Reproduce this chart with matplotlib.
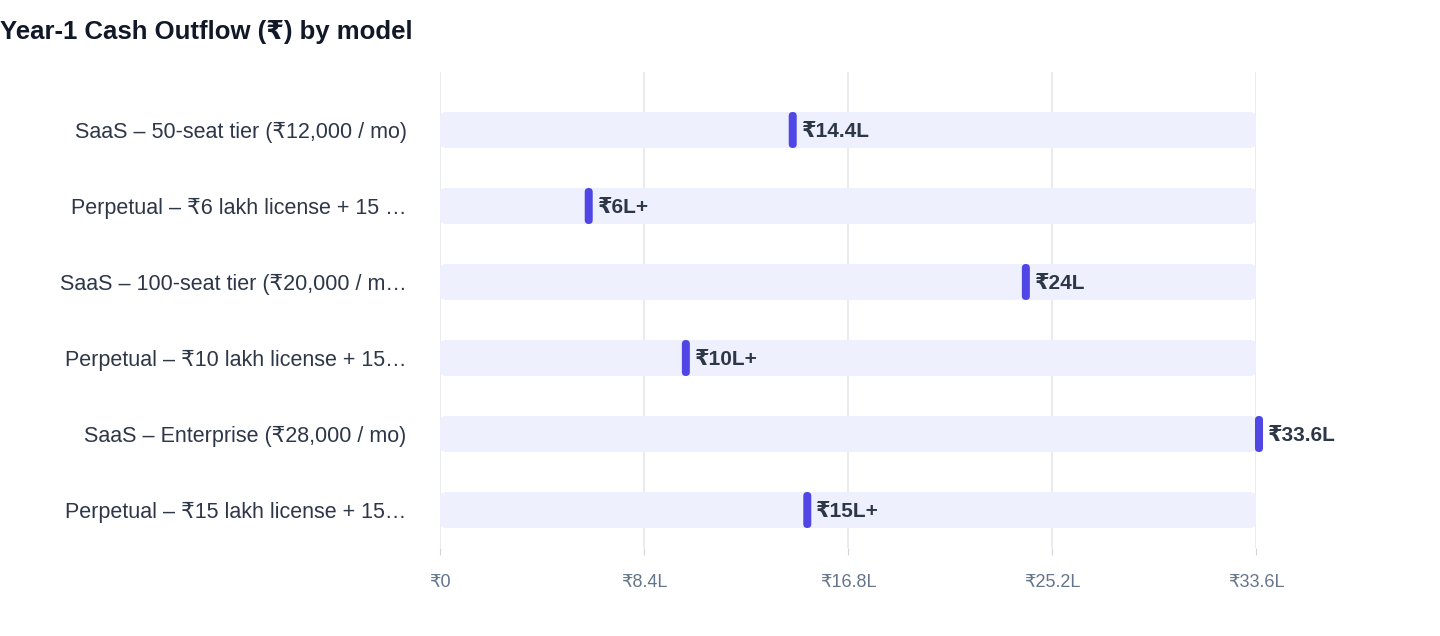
import matplotlib
matplotlib.use("Agg")
import matplotlib.pyplot as plt
from matplotlib.patches import FancyBboxPatch

plt.rcParams['font.family'] = ['Liberation Sans', 'DejaVu Sans']

categories = ["SaaS – 50-seat tier (₹12,000 / mo)",
              "Perpetual – ₹6 lakh license + 15 …",
              "SaaS – 100-seat tier (₹20,000 / m…",
              "Perpetual – ₹10 lakh license + 15…",
              "SaaS – Enterprise (₹28,000 / mo)",
              "Perpetual – ₹15 lakh license + 15…"]
values = [14.4, 6, 24, 10, 33.6, 15]
value_labels = ["₹14.4L", "₹6L+", "₹24L", "₹10L+", "₹33.6L", "₹15L+"]
ticks = [0, 8.4, 16.8, 25.2, 33.6]
tick_labels = ["₹0", "₹8.4L", "₹16.8L", "₹25.2L", "₹33.6L"]
xmax = 33.6

fig = plt.figure(figsize=(14.4, 6.36), dpi=100)
ax = fig.add_axes([440/1440, 88/636, 816/1440, 476/636])
ax.set_xlim(0, xmax)
ax.set_ylim(5.5, -0.763)
pxx = 816/xmax
pxy = 76.0
asp = pxx/pxy
h = 36/76

for x in ticks:
    ax.axvline(x, color="#e5e7eb", lw=1.2, zorder=0)

for i, (v, lab) in enumerate(zip(values, value_labels)):
    ax.add_patch(FancyBboxPatch((0, i - h/2), xmax, h,
                 boxstyle=f"round,pad=0,rounding_size={6/pxx}",
                 mutation_aspect=asp, fc="#eef1fd", ec="none", zorder=1))
    w = 8/pxx
    ax.add_patch(FancyBboxPatch((v - w/2 + 3/pxx, i - h/2), w, h,
                 boxstyle=f"round,pad=0,rounding_size={4/pxx}",
                 mutation_aspect=asp, fc="#4f46e5", ec="none", zorder=3,
                 clip_on=False))
    ax.text(v + 12/pxx, i, lab, ha="left", va="center_baseline", fontsize=15,
            fontweight="bold", color="#2d3748", zorder=4, clip_on=False)

ax.set_yticks(range(len(categories)))
ax.set_yticklabels(categories, fontsize=15.5, color="#2d3748")
ax.set_xticks(ticks)
ax.set_xticklabels(tick_labels, fontsize=13, color="#64748b")
ax.tick_params(axis="y", length=0, pad=24)
ax.tick_params(axis="x", length=5, color="#d1d5db", pad=14)
for s in ax.spines.values():
    s.set_visible(False)

fig.text(0, 1 - 32/636, "Year-1 Cash Outflow (₹) by model", fontsize=18.5,
         fontweight="bold", color="#111827", ha="left", va="center")
fig.savefig("out.png", dpi=100, facecolor="white")
